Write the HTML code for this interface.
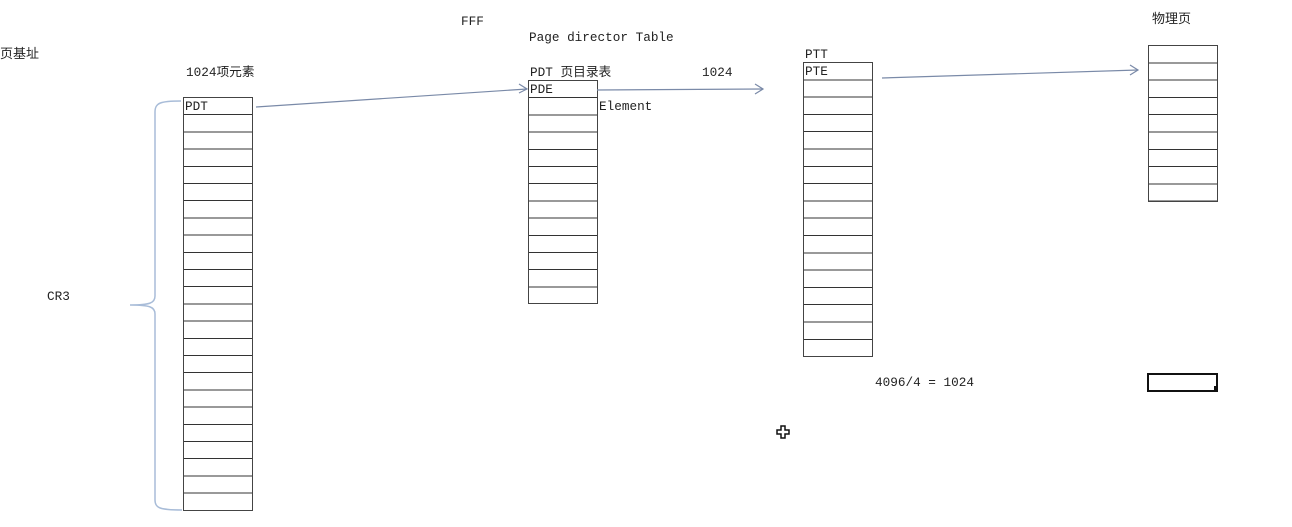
<!DOCTYPE html>
<html><head><meta charset="utf-8"><style>
body{margin:0;width:1292px;height:527px;background:#fff;position:relative;overflow:hidden;font-family:"Liberation Mono","Noto Sans CJK SC",monospace;font-size:12.7px;color:#222}
.t{position:absolute;white-space:nowrap;line-height:14px}
.col{position:absolute;box-sizing:border-box;border:1px solid #444;width:70px;
background-image:repeating-linear-gradient(to bottom,transparent 0,transparent 16.2px,#333 16.2px,#333 17.2px)}
</style></head><body>
<div class="col" style="left:183px;top:97px;height:414px"></div>
<div class="col" style="left:528px;top:80px;height:224px"></div>
<div class="col" style="left:803px;top:62px;height:295px;background-image:repeating-linear-gradient(to bottom,transparent 0,transparent 16.3px,#333 16.3px,#333 17.3px)"></div>
<div class="col" style="left:1148px;top:45px;height:157px;background-image:repeating-linear-gradient(to bottom,transparent 0,transparent 16.3px,#333 16.3px,#333 17.3px)"></div>
<div style="position:absolute;left:1147px;top:373px;width:67px;height:15px;border:2px solid #111"></div>
<div style="position:absolute;left:1214px;top:386px;width:4px;height:4px;background:#111"></div>
<svg width="1292" height="527" style="position:absolute;left:0;top:0" fill="none">
<g stroke="#7a8aa8" stroke-width="1.2">
<line x1="256" y1="107" x2="527" y2="89"/><polyline points="519,84 527,89 519,93"/>
<line x1="597" y1="90" x2="763" y2="89"/><polyline points="755,84 763,89 755,94"/>
<line x1="882" y1="78" x2="1138" y2="70"/><polyline points="1130,65 1138,70 1130,75"/>
</g>
<path d="M181,101 C160,101 155,103 155,112 L155,296 C155,303 150,305 130,305 C150,305 155,307 155,314 L155,500 C155,508 160,510 182,510" stroke="#a8bcd8" stroke-width="1.5"/>
<path d="M777,430h4v-4h4v4h4v4h-4v4h-4v-4h-4z" stroke="#111" stroke-width="1.5"/>
</svg>
<div class="t" style="left:0;top:48px;font-size:13px">页基址</div>
<div class="t" style="left:461px;top:15px">FFF</div>
<div class="t" style="left:529px;top:31px">Page director Table</div>
<div class="t" style="left:186px;top:66px">1024项元素</div>
<div class="t" style="left:530px;top:66px">PDT 页目录表</div>
<div class="t" style="left:702px;top:66px">1024</div>
<div class="t" style="left:185px;top:100px">PDT</div>
<div class="t" style="left:530px;top:83px">PDE</div>
<div class="t" style="left:599px;top:100px">Element</div>
<div class="t" style="left:805px;top:48px">PTT</div>
<div class="t" style="left:805px;top:65px">PTE</div>
<div class="t" style="left:1152px;top:13px;font-size:13px">物理页</div>
<div class="t" style="left:47px;top:290px">CR3</div>
<div class="t" style="left:875px;top:376px">4096/4 = 1024</div>
</body></html>
